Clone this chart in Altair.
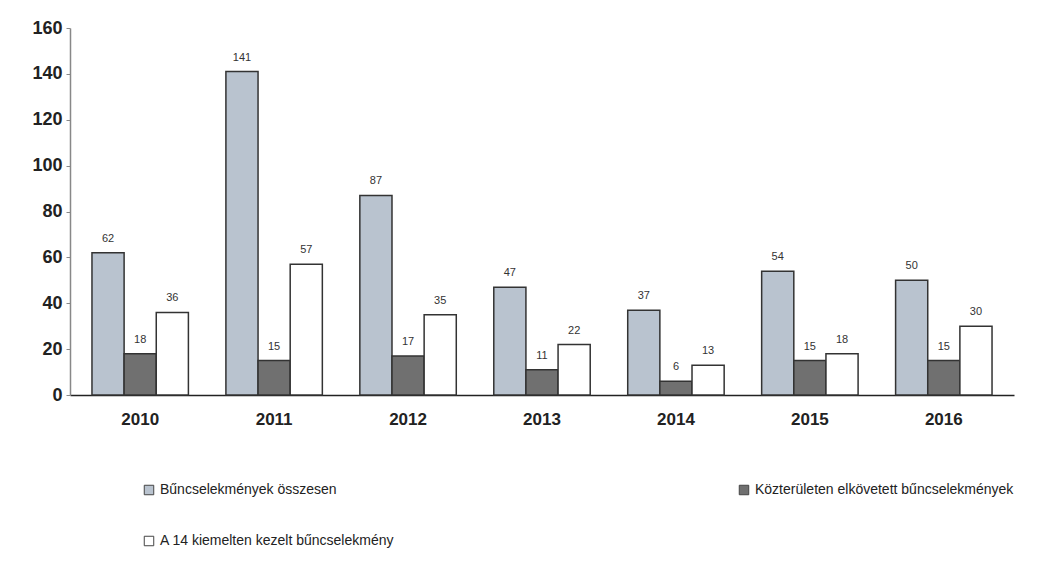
import altair as alt
import pandas as pd

years = ["2010", "2011", "2012", "2013", "2014", "2015", "2016"]
series = ["Bűncselekmények összesen",
          "Közterületen elkövetett bűncselekmények",
          "A 14 kiemelten kezelt  bűncselekmény"]
total = [62, 141, 87, 47, 37, 54, 50]
public = [18, 15, 17, 11, 6, 15, 15]
key14 = [36, 57, 35, 22, 13, 18, 30]
colors = ["#b9c3cf", "#707070", "#ffffff"]

rows = []
for i, y in enumerate(years):
    for s, vals in zip(series, [total, public, key14]):
        rows.append({"year": y, "series": s, "value": vals[i]})
df = pd.DataFrame(rows)

font = "Liberation Sans"

base = alt.Chart(df).encode(
    x=alt.X("year:N", sort=years, title=None,
            scale=alt.Scale(paddingInner=0.28, paddingOuter=0.164),
            axis=alt.Axis(labelAngle=0, labelFont=font, labelFontSize=17,
                          labelFontWeight="bold", labelColor="#222", ticks=False,
                          domainColor="#222", domainWidth=1.5, labelPadding=16)),
    xOffset=alt.XOffset("series:N", sort=series),
    y=alt.Y("value:Q", title=None,
            scale=alt.Scale(domain=[0, 160]),
            axis=alt.Axis(values=list(range(0, 161, 20)), labelFont=font, labelFontSize=18,
                          labelFontWeight="bold", labelColor="#222", grid=False,
                          domain=True, domainColor="#888", domainWidth=1.5,
                          ticks=True, tickColor="#888", tickSize=4,
                          labelPadding=4, minExtent=62, maxExtent=62)),
)

bars = base.mark_bar(stroke="#333", strokeWidth=1.5).encode(
    color=alt.Color("series:N", sort=series,
                    scale=alt.Scale(domain=series, range=colors),
                    legend=alt.Legend(title=None, orient="none", legendX=72, legendY=455,
                                      direction="horizontal",
                                      columns=2, columnPadding=338, rowPadding=37,
                                      symbolType="square", symbolSize=90,
                                      symbolStrokeColor="#444", symbolStrokeWidth=1,
                                      labelFont=font, labelFontSize=14, labelColor="#222",
                                      labelLimit=400))
)

labels = base.mark_text(dy=-14, font=font, fontSize=11, color="#333").encode(
    text="value:Q"
)

chart = (bars + labels).properties(
    width=944, height=367,
    padding={"left": 0, "top": 11, "right": 3, "bottom": 5},
).configure_view(stroke=None)

chart.save("out.html", embed_options={"renderer": "svg", "actions": False})
